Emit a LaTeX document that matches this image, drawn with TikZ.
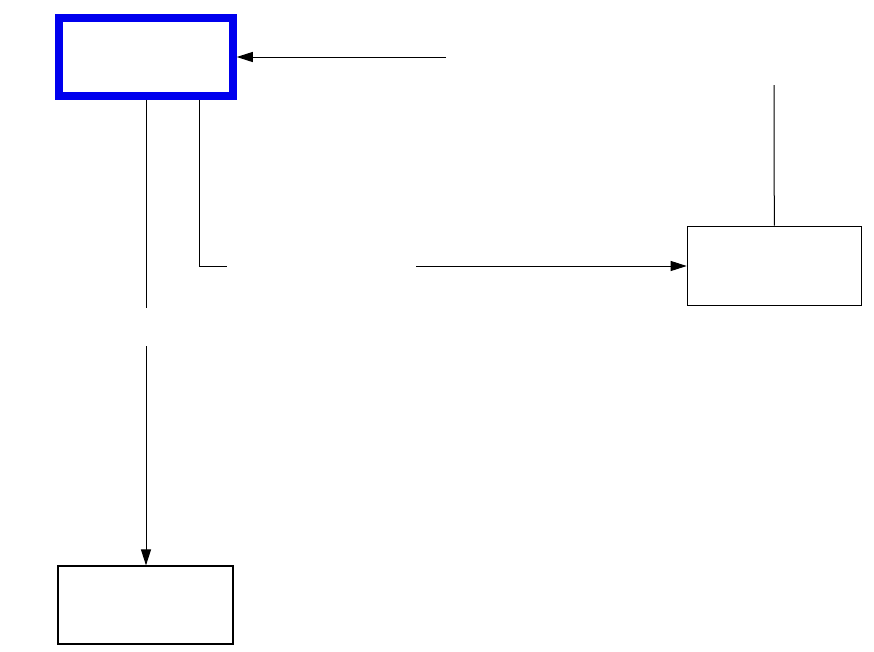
\documentclass[tikz,border=0pt]{standalone}
\usetikzlibrary{arrows.meta}
\begin{document}
\begin{tikzpicture}[x=1pt,y=-1pt,
  box/.style={draw=black,line width=1.2pt,minimum width=174pt,minimum height=79pt,inner sep=0pt},
  hot/.style={draw={rgb,255:red,0;green,0;blue,238},line width=7.5pt,minimum width=174pt,minimum height=78pt,inner sep=0pt},
  conn/.style={line width=1pt},
  arr/.style={conn,-{Triangle[length=16pt,width=10pt]}}]
\useasboundingbox (0,0) rectangle (874,651);
\node[hot] (blue) at (146,57) {};
\node[box] (right) at (774.3,265.7) {};
\node[box,minimum width=175pt,minimum height=78pt] (bottom) at (145.5,605) {};
\coordinate (t1) at (446,57);
\coordinate (r1) at (774,85);
\coordinate (v2) at (199,266);
\coordinate (h1) at (227,266);
\coordinate (h2) at (416,266);
\coordinate (g1) at (146,308);
\coordinate (g2) at (146,346);
\draw[arr] (t1) -- (blue.east);
\draw[conn] (r1) -- (right.north);
\draw[conn] (blue.south -| v2) -- (v2) -- (h1);
\draw[arr] (h2) -- (h2 -| right.west);
\draw[conn] (blue.south -| g1) -- (g1);
\draw[arr] (g2) -- (g2 |- bottom.north);
\end{tikzpicture}
\end{document}
